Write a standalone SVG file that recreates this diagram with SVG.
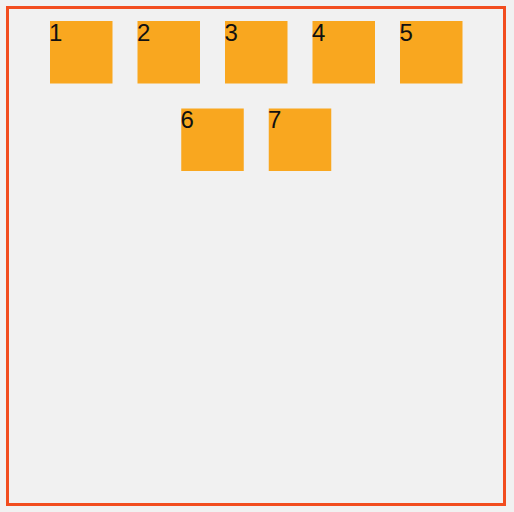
<svg xmlns="http://www.w3.org/2000/svg" width="514" height="512" viewBox="0 0 514 512">
<style>
.box{fill:#f9a71f}
.lbl{font-family:"Liberation Sans",Arial,sans-serif;font-size:24px;fill:#111}
</style>
<rect x="0" y="0" width="514" height="512" fill="#f1f1f1"/>
<rect x="7.5" y="7.5" width="497" height="497" fill="none" stroke="#f24d1f" stroke-width="3"/>
<g id="n1"><rect class="box" x="50" y="21" width="62.5" height="62.5"/><text class="lbl" x="49" y="41">1</text></g>
<g id="n2"><rect class="box" x="137.5" y="21" width="62.5" height="62.5"/><text class="lbl" x="137" y="41">2</text></g>
<g id="n3"><rect class="box" x="225" y="21" width="62.5" height="62.5"/><text class="lbl" x="224.5" y="41">3</text></g>
<g id="n4"><rect class="box" x="312.5" y="21" width="62.5" height="62.5"/><text class="lbl" x="312" y="41">4</text></g>
<g id="n5"><rect class="box" x="400" y="21" width="62.5" height="62.5"/><text class="lbl" x="399.5" y="41">5</text></g>
<g id="n6"><rect class="box" x="181.25" y="108.5" width="62.5" height="62.5"/><text class="lbl" x="180.5" y="128">6</text></g>
<g id="n7"><rect class="box" x="268.75" y="108.5" width="62.5" height="62.5"/><text class="lbl" x="268" y="128">7</text></g>
<g id="connectors"/>
</svg>
